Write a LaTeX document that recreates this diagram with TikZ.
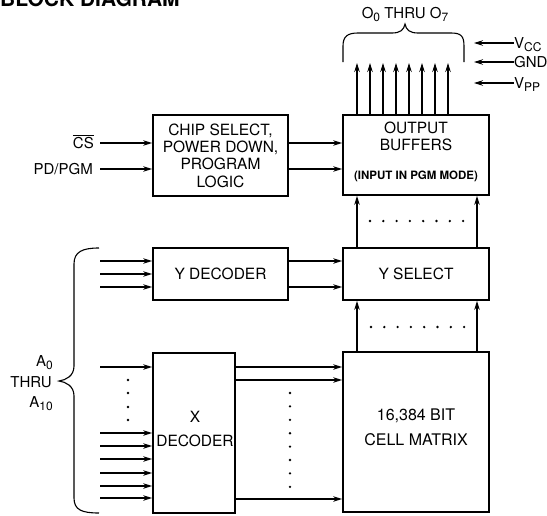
\documentclass[tikz,border=0pt]{standalone}
\usepackage{fontspec}
\setmainfont{TeX Gyre Heros}
\usetikzlibrary{arrows.meta}
\newcommand\lowsub[1]{\raisebox{-3pt}{\fontsize{12}{12}\selectfont #1}}
\begin{document}
\begin{tikzpicture}[x=1pt,y=-1pt,
  box/.style={draw,line width=1.8pt,inner sep=0pt},
  conn/.style={line width=1.1pt},
  arr/.style={conn,-{Stealth[length=9pt,width=5.5pt]}},
  lbl/.style={inner sep=0pt,font=\fontsize{15}{17}\selectfont},
  btxt/.style={inner sep=0pt,align=center,font=\fontsize{15.5}{17.3}\selectfont},
  dotm/.style={circle,fill,inner sep=0pt,minimum size=2.6pt},
]
\useasboundingbox (0,0) rectangle (547,515);

% title
\node[anchor=base west,inner sep=0pt,font=\bfseries\fontsize{21}{21}\selectfont] (title) at (0,6) {BLOCK DIAGRAM};

% boxes
\node[box,btxt,minimum width=135pt,minimum height=81pt] (cs) at (220.5,155.5) {CHIP SELECT,\\POWER DOWN,\\PROGRAM\\LOGIC};
\node[box,minimum width=146pt,minimum height=80pt] (ob) at (416,155) {};
\node[btxt] (obt) at (416,136) {OUTPUT\\BUFFERS};
\node[inner sep=0pt,font=\bfseries\fontsize{11.5}{12}\selectfont] (obm) at (416,176) {(INPUT IN PGM MODE)};
\node[box,btxt,minimum width=135pt,minimum height=52pt] (yd) at (220.5,274) {Y DECODER};
\node[box,btxt,minimum width=146pt,minimum height=52pt] (ys) at (416,274) {Y SELECT};
\node[box,minimum width=82pt,minimum height=160pt] (xd) at (194,433) {};
\node[btxt,font=\fontsize{15.5}{24}\selectfont] (xdt) at (195,429) {X\\DECODER};
\node[box,minimum width=146pt,minimum height=160pt] (cm) at (416,432) {};
\node[btxt,font=\fontsize{16}{25}\selectfont] (cmt) at (416,427.5) {16,384 BIT\\CELL MATRIX};

% chip select inputs
\node[lbl,anchor=base east] (cslab) at (94,148) {$\overline{\mbox{CS}}$};
\node[lbl,anchor=base east] (pdlab) at (93,174) {PD/PGM};
\coordinate (csin) at (100,143);
\coordinate (pdin) at (100,169);
\draw[arr] (csin) -- (csin -| cs.west);
\draw[arr] (pdin) -- (pdin -| cs.west);
\draw[arr] (cs.east |- csin) -- (ob.west |- csin);
\draw[arr] (cs.east |- pdin) -- (ob.west |- pdin);

% outputs
\foreach \x [count=\i] in {357,370,383,396,409,422,435,448} {
  \coordinate (o\i) at (\x,63);
  \draw[arr] (ob.north -| o\i) -- (o\i);
}
\draw[conn] (343,62) -- (343,46) .. controls (343,36) and (348,33) .. (358,33) -- (392,33)
  .. controls (400,33) and (404,30) .. (405,24) .. controls (406,30) and (410,33) .. (418,33)
  -- (451,33) .. controls (461,33) and (464,36) .. (464,46) -- (464,62);
\node[lbl,anchor=base] (olab) at (405,18) {O\lowsub{0} THRU O\lowsub{7}};

% supplies
\node[lbl,anchor=base west] (vcc) at (514,48) {V\lowsub{CC}};
\node[lbl,anchor=base west] (gnd) at (514,67) {GND};
\node[lbl,anchor=base west] (vpp) at (514,88) {V\lowsub{PP}};
\coordinate (vcce) at (474,43);
\coordinate (gnde) at (474,62);
\coordinate (vppe) at (474,83);
\draw[arr] (vcc.west |- vcce) -- (vcce);
\draw[arr] (gnd.west |- gnde) -- (gnde);
\draw[arr] (vpp.west |- vppe) -- (vppe);

% Y select to output buffers
\coordinate (c1) at (357,0);
\coordinate (c2) at (477,0);
\draw[arr] (ys.north -| c1) -- (ob.south -| c1);
\draw[arr] (ys.north -| c2) -- (ob.south -| c2);
\foreach \i in {0,...,7} \node[dotm] (da\i) at ({370+\i*13.3},221) {};

% cell matrix to Y select
\draw[arr] (cm.north -| c1) -- (ys.south -| c1);
\draw[arr] (cm.north -| c2) -- (ys.south -| c2);
\foreach \i in {0,...,7} \node[dotm] (db\i) at ({371+\i*13.3},327) {};

% Y decoder
\foreach \y [count=\i] in {261,274,287} {
  \coordinate (yi\i) at (100,\y);
  \draw[arr] (yi\i) -- (yi\i -| yd.west);
}
\coordinate (yo1) at (0,261);
\coordinate (yo2) at (0,287);
\draw[arr] (yd.east |- yo1) -- (ys.west |- yo1);
\draw[arr] (yd.east |- yo2) -- (ys.west |- yo2);

% X decoder inputs
\foreach \y [count=\i] in {367,433,446,459,473,486,498} {
  \coordinate (xi\i) at (100,\y);
  \draw[arr] (xi\i) -- (xi\i -| xd.west);
}
\foreach \y [count=\i] in {380,393,407,420} \node[dotm] (dc\i) at (128,\y) {};

% X decoder outputs
\foreach \y [count=\i] in {367,380,499} {
  \coordinate (xo\i) at (0,\y);
  \draw[arr] (xd.east |- xo\i) -- (cm.west |- xo\i);
}
\foreach \i in {0,...,7} \node[dotm] (dd\i) at (290,{393+\i*13.4}) {};

% address brace
\draw[conn] (99,248) .. controls (82,248) and (74,252) .. (74,264) -- (74,366)
  .. controls (74,376) and (66,380) .. (59,381) .. controls (66,382) and (74,386) .. (74,396)
  -- (74,498) .. controls (74,510) and (82,513) .. (99,513);
\node[lbl,anchor=base east] (a0) at (53,366) {A\lowsub{0}};
\node[lbl,anchor=base east] (thru) at (52,387) {THRU};
\node[lbl,anchor=base east] (a10) at (53,407) {A\lowsub{10}};
\end{tikzpicture}
\end{document}
